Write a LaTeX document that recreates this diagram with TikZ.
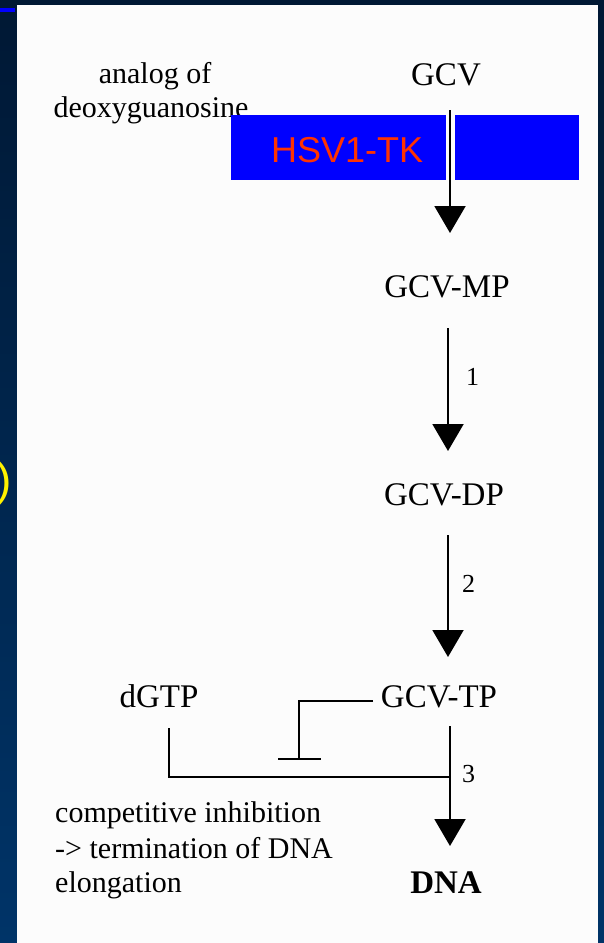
\documentclass[tikz,border=0pt]{standalone}
\usepackage{fontspec}
\setmainfont{Liberation Serif}
\newfontfamily\sansf{Liberation Sans}
\usetikzlibrary{arrows.meta}
\definecolor{bgtop}{RGB}{0,24,52}
\definecolor{bgbot}{RGB}{0,52,104}
\definecolor{tkred}{RGB}{255,51,0}
\definecolor{panel}{RGB}{252,252,252}
\begin{document}
\begin{tikzpicture}[x=1pt,y=-1pt,
  lbl/.style={font=\fontsize{33}{33}\selectfont, inner sep=0pt, anchor=base},
  note/.style={font=\fontsize{30}{30}\selectfont, inner sep=0pt},
  num/.style={font=\fontsize{26}{26}\selectfont, inner sep=0pt, anchor=base west},
  conn/.style={line width=2pt, draw=black},
  arr/.style={conn, -{Triangle[length=27pt,width=31pt]}}]
\useasboundingbox (0,0) rectangle (604,943);
\shade[top color=bgtop, bottom color=bgbot] (0,0) rectangle (604,943);
\fill[blue] (0,8) rectangle (15,12);
\fill[panel] (17,5) rectangle (598,943);
\node[font=\sansf\fontsize{46}{46}\selectfont, text=yellow, anchor=base east, inner sep=0pt] (paren) at (12,495) {)};

% left annotation
\node[note, anchor=base] (an1) at (155,83) {analog of};
\node[note, anchor=base] (an2) at (151,117) {deoxyguanosine};

% HSV1-TK box
\fill[blue] (231,115) rectangle (446,180);
\fill[blue] (455,115) rectangle (579,180);
\node[font=\sansf\fontsize{36}{36}\selectfont, text=tkred, anchor=base west, inner sep=0pt] (tk) at (271,162) {HSV1-TK};

% main labels
\node[lbl] (gcv) at (446,85) {GCV};
\node[lbl] (mp) at (447,297) {GCV-MP};
\node[lbl] (dp) at (444,505) {GCV-DP};
\node[lbl] (tp) at (439,707) {GCV-TP};
\node[lbl] (dgtp) at (159,707) {dGTP};
\node[lbl, font=\bfseries\fontsize{33}{33}\selectfont] (dna) at (446,893) {DNA};

% arrow endpoints
\coordinate (a0s) at (450,110);
\coordinate (a0e) at (450,233);
\coordinate (a1s) at (448,328);
\coordinate (a1e) at (448,451);
\coordinate (a2s) at (448,535);
\coordinate (a2e) at (448,657);
\coordinate (a3s) at (450,726);
\coordinate (a3e) at (450,846);
\draw[arr] (a0s) -- (a0e);
\draw[arr] (a1s) -- (a1e);
\draw[arr] (a2s) -- (a2e);
\draw[arr] (a3s) -- (a3e);

\node[num] (n1) at (466,385) {1};
\node[num] (n2) at (462,592) {2};
\node[num] (n3) at (462,782) {3};

% inhibition
\coordinate (inhA) at (373,701);
\coordinate (inhB) at (299,701);
\coordinate (inhC) at (299,759);
\coordinate (barL) at (278,759);
\coordinate (barR) at (321,759);
\draw[conn] (inhA) -- (inhB) -- (inhC);
\draw[conn] (barL) -- (barR);

% dGTP competition
\coordinate (dg1) at (169,728);
\coordinate (dg2) at (169,777);
\coordinate (dg3) at (450,777);
\draw[conn] (dg1) -- (dg2) -- (dg3);

% caption
\node[note, anchor=base west] (c1) at (55,822) {competitive inhibition};
\node[note, anchor=base west] (c2) at (55,858) {-> termination of DNA};
\node[note, anchor=base west] (c3) at (55,892) {elongation};
\end{tikzpicture}
\end{document}
